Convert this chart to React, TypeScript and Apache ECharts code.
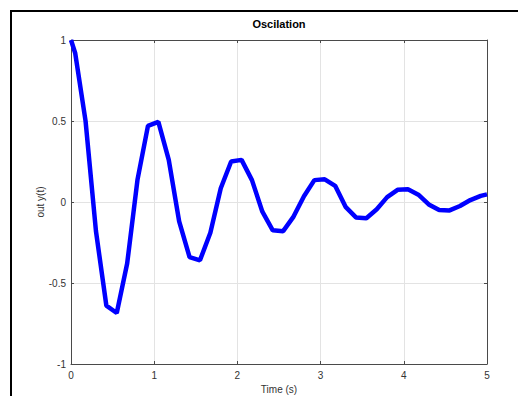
import React, { useEffect, useRef } from "react";
import * as echarts from "echarts";

const timeS = [
  0, 0.05, 0.175, 0.3, 0.425, 0.55, 0.675, 0.8, 0.925, 1.05, 1.175, 1.3, 1.425, 1.55,
  1.675, 1.8, 1.925, 2.05, 2.175, 2.3, 2.425, 2.55, 2.675, 2.8, 2.925, 3.05, 3.175,
  3.3, 3.425, 3.55, 3.675, 3.8, 3.925, 4.05, 4.175, 4.3, 4.425, 4.55, 4.675, 4.8,
  4.925, 5.0,
];
const outY = [
  1.0, 0.92, 0.5, -0.18, -0.64, -0.685, -0.38, 0.14, 0.47, 0.495, 0.26, -0.12, -0.34,
  -0.36, -0.19, 0.085, 0.25, 0.26, 0.135, -0.06, -0.175, -0.18, -0.09, 0.035, 0.135,
  0.14, 0.1, -0.03, -0.095, -0.1, -0.045, 0.03, 0.075, 0.078, 0.045, -0.015, -0.05,
  -0.052, -0.025, 0.012, 0.038, 0.047,
];
const titleText = "Oscilation";
const xName = "Time (s)";
const yName = "out y(t)";

export default function App() {
  const ref = useRef<HTMLDivElement>(null);
  useEffect(() => {
    if (!ref.current) return;
    const chart = echarts.init(ref.current, undefined, { renderer: "svg" });
    const font = "'Liberation Sans', Arial, Helvetica, sans-serif";
    const axisColor = "#4a4a4a";
    const labelColor = "#333333";
    chart.setOption({
      animation: false,
      backgroundColor: "#ffffff",
      textStyle: { fontFamily: font },
      title: {
        text: titleText,
        left: 279,
        top: 18,
        padding: 0,
        textAlign: "center",
        textStyle: { fontSize: 11, fontWeight: "bold", color: "#000", fontFamily: font },
      },
      grid: {
        left: 71,
        right: 31,
        top: 40,
        bottom: 32,
        containLabel: false,
        outerBoundsMode: "none",
      },
      xAxis: [
        {
          type: "value",
          min: 0,
          max: 5,
          interval: 1,
          position: "bottom",
          name: xName,
          nameLocation: "middle",
          nameGap: 17,
          nameTextStyle: { fontSize: 10, color: labelColor, fontFamily: font },
          axisLine: { show: true, onZero: false, lineStyle: { color: axisColor, width: 1 } },
          axisTick: { show: true, inside: true, length: 3, lineStyle: { color: axisColor } },
          axisLabel: { fontSize: 10, color: labelColor, margin: 6, fontFamily: font },
          splitLine: { show: true, lineStyle: { color: "#e3e3e3", width: 1 } },
        },
        {
          type: "value",
          min: 0,
          max: 5,
          interval: 1,
          position: "top",
          axisLine: { show: true, onZero: false, lineStyle: { color: axisColor, width: 1 } },
          axisTick: { show: true, inside: true, length: 3, lineStyle: { color: axisColor } },
          axisLabel: { show: false },
          splitLine: { show: false },
        },
      ],
      yAxis: [
        {
          type: "value",
          min: -1,
          max: 1,
          interval: 0.5,
          position: "left",
          name: yName,
          nameLocation: "middle",
          nameGap: 26,
          nameMoveOverlap: false,
          nameTextStyle: { fontSize: 10, color: labelColor, fontFamily: font },
          axisLine: { show: true, onZero: false, lineStyle: { color: axisColor, width: 1 } },
          axisTick: { show: true, inside: true, length: 3, lineStyle: { color: axisColor } },
          axisLabel: { fontSize: 10, color: labelColor, margin: 5, fontFamily: font },
          splitLine: { show: true, lineStyle: { color: "#e3e3e3", width: 1 } },
        },
        {
          type: "value",
          min: -1,
          max: 1,
          interval: 0.5,
          position: "right",
          axisLine: { show: true, onZero: false, lineStyle: { color: axisColor, width: 1 } },
          axisTick: { show: true, inside: true, length: 3, lineStyle: { color: axisColor } },
          axisLabel: { show: false },
          splitLine: { show: false },
        },
      ],
      series: [
        {
          type: "line",
          xAxisIndex: 0,
          yAxisIndex: 0,
          data: timeS.map((t, i) => [t, outY[i]]),
          showSymbol: false,
          lineStyle: { color: "#0000ff", width: 4.5 },
          clip: true,
        },
      ],
      graphic: [
        {
          type: "rect",
          shape: { x: 11, y: 11, width: 700, height: 700 },
          style: { fill: "none", stroke: "#000000", lineWidth: 2 },
          silent: true,
        },
      ],
    });
    return () => chart.dispose();
  }, []);
  return (
    <div
      ref={ref}
      style={{ position: "fixed", left: 0, top: 0, width: 518, height: 396 }}
    />
  );
}
